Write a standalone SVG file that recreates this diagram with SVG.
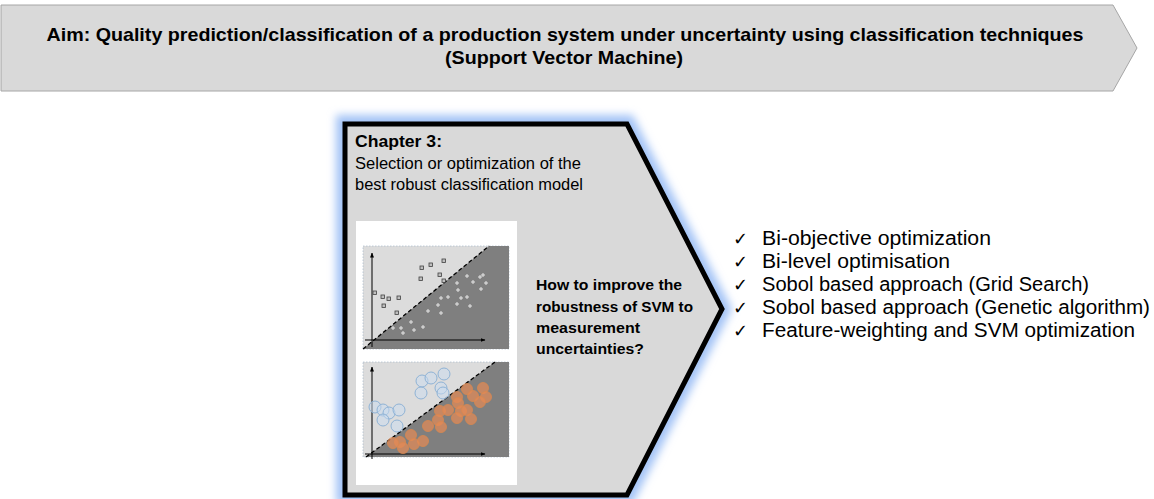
<svg xmlns="http://www.w3.org/2000/svg" width="1154" height="499" viewBox="0 0 1154 499">
<defs>
<style>
.bt{font-family:"Liberation Sans",Arial,sans-serif;font-weight:bold;fill:#000}
.rt{font-family:"Liberation Sans",Arial,sans-serif;fill:#000}
.ck{font-family:"DejaVu Sans",sans-serif;fill:#000;font-size:18px}
.li{font-family:"Liberation Sans",Arial,sans-serif;fill:#000;font-size:19.5px}
.xm{fill:#bfbfbf;stroke:#404040;stroke-width:0.8}
.pm{stroke:#e6e6e6;stroke-width:1}
.bc{fill:#c9dcef;fill-opacity:0.5;stroke:#8fb3d6;stroke-width:1}
.oc{fill:#e58a55;fill-opacity:0.7;stroke:#d9884f;stroke-width:0.8}
</style>
<filter id="glow" x="-20%" y="-20%" width="140%" height="140%"><feGaussianBlur stdDeviation="4"/></filter>
<marker id="ah" viewBox="0 0 10 10" refX="9" refY="5" markerWidth="5" markerHeight="5" orient="auto"><path d="M0,1 L10,5 L0,9 Z" fill="#000"/></marker>
</defs>

<g id="banner">
<path d="M1,5 L1113,5 L1137,48 L1113,91 L1,91 Z" fill="#d9d9d9" stroke="#a6a6a6" stroke-width="1"/>
<text class="bt" x="565" y="41" font-size="19" text-anchor="middle" textLength="1037" lengthAdjust="spacingAndGlyphs">Aim: Quality prediction/classification of a production system under uncertainty using classification techniques</text>
<text class="bt" x="564" y="64" font-size="19" text-anchor="middle" textLength="238" lengthAdjust="spacingAndGlyphs">(Support Vector Machine)</text>
</g>

<g id="chapter3">
<path d="M345,124 L627,124 L722,309 L627,495 L345,495 Z" fill="none" stroke="#a3c3f6" stroke-width="18" filter="url(#glow)"/>
<path d="M345,124 L627,124 L722,309 L627,495 L345,495 Z" fill="#d9d9d9" stroke="#000" stroke-width="5" stroke-linejoin="miter"/>
<text class="bt" x="355" y="147" font-size="17" textLength="87" lengthAdjust="spacingAndGlyphs">Chapter 3:</text>
<text class="rt" x="355" y="169" font-size="16" textLength="226" lengthAdjust="spacingAndGlyphs">Selection or optimization of the</text>
<text class="rt" x="355" y="190" font-size="16" textLength="228" lengthAdjust="spacingAndGlyphs">best robust classification model</text>
<text class="bt" x="536" y="290" font-size="15" textLength="146" lengthAdjust="spacingAndGlyphs">How to improve the</text>
<text class="bt" x="536" y="312" font-size="15" textLength="157" lengthAdjust="spacingAndGlyphs">robustness of SVM to</text>
<text class="bt" x="536" y="333" font-size="15" textLength="104" lengthAdjust="spacingAndGlyphs">measurement</text>
<text class="bt" x="536" y="354" font-size="15" textLength="108" lengthAdjust="spacingAndGlyphs">uncertainties?</text>
</g>

<g id="svm-plots">
<rect x="356" y="221" width="161" height="264" fill="#fff"/>
<rect x="363" y="246" width="146" height="103" fill="#dcdcdc" stroke="#9fb3c8" stroke-width="0.6" stroke-dasharray="1.5,1.5"/>
<polygon points="363,349 489,246 509,246 509,349" fill="#7f7f7f"/>
<line x1="363" y1="349" x2="489" y2="246" stroke="#000" stroke-width="1.3" stroke-dasharray="4,2.5"/>
<line x1="372" y1="347" x2="372" y2="253" stroke="#000" stroke-width="1" marker-end="url(#ah)"/>
<line x1="365" y1="340" x2="485" y2="340" stroke="#000" stroke-width="1" marker-end="url(#ah)"/>
<g>
<rect class="xm" x="373" y="291" width="3.5" height="3.5"/><rect class="xm" x="381" y="295" width="3.5" height="3.5"/><rect class="xm" x="387" y="297" width="3.5" height="3.5"/><rect class="xm" x="397" y="296" width="3.5" height="3.5"/><rect class="xm" x="382" y="304" width="3.5" height="3.5"/><rect class="xm" x="395" y="311" width="3.5" height="3.5"/><rect class="xm" x="420" y="266" width="3.5" height="3.5"/><rect class="xm" x="429" y="263" width="3.5" height="3.5"/><rect class="xm" x="442" y="259" width="3.5" height="3.5"/><rect class="xm" x="419" y="277" width="3.5" height="3.5"/><rect class="xm" x="438" y="273" width="3.5" height="3.5"/><rect class="xm" x="442" y="279" width="3.5" height="3.5"/>
</g>
<path class="pm" d="M455,283h4M457,281v4 M465,276h4M467,274v4 M471,282h4M473,280v4 M478,277h4M480,275v4 M481,275h4M483,273v4 M484,283h4M486,281v4 M479,289h4M481,287v4 M456,290h4M458,288v4 M446,297h4M448,295v4 M439,298h4M441,296v4 M459,298h4M461,296v4 M465,297h4M467,295v4 M455,304h4M457,302v4 M468,306h4M470,304v4 M436,305h4M438,303v4 M439,313h4M441,311v4 M426,311h4M428,309v4 M409,322h4M411,320v4 M421,327h4M423,325v4 M412,330h4M414,328v4 M399,328h4M401,326v4 M401,333h4M403,331v4 M391,328h4M393,326v4"/>
<rect x="363" y="362" width="146" height="95" fill="#dcdcdc" stroke="#9fb3c8" stroke-width="0.6" stroke-dasharray="1.5,1.5"/>
<polygon points="366,457 495,362 509,362 509,457" fill="#7f7f7f"/>
<line x1="366" y1="457" x2="495" y2="362" stroke="#000" stroke-width="1.3" stroke-dasharray="4,2.5"/>
<line x1="372" y1="459" x2="372" y2="367" stroke="#000" stroke-width="1" marker-end="url(#ah)"/>
<line x1="365" y1="454" x2="485" y2="454" stroke="#000" stroke-width="1" marker-end="url(#ah)"/>
<g>
<circle class="bc" cx="422" cy="381" r="6"/><circle class="bc" cx="431" cy="378" r="6"/><circle class="bc" cx="444" cy="374" r="6"/><circle class="bc" cx="421" cy="393" r="6"/><circle class="bc" cx="441" cy="388" r="6"/><circle class="bc" cx="443" cy="393" r="6"/><circle class="bc" cx="375" cy="407" r="6"/><circle class="bc" cx="383" cy="410" r="6"/><circle class="bc" cx="389" cy="413" r="6"/><circle class="bc" cx="399" cy="410" r="6"/><circle class="bc" cx="383" cy="420" r="6"/><circle class="bc" cx="397" cy="426" r="6"/>
</g>
<g>
<circle class="oc" cx="457" cy="397" r="5.5"/><circle class="oc" cx="467" cy="389" r="5.5"/><circle class="oc" cx="473" cy="396" r="5.5"/><circle class="oc" cx="483" cy="388" r="5.5"/><circle class="oc" cx="486" cy="397" r="5.5"/><circle class="oc" cx="480" cy="402" r="5.5"/><circle class="oc" cx="458" cy="403" r="5.5"/><circle class="oc" cx="440" cy="411" r="5.5"/><circle class="oc" cx="448" cy="410" r="5.5"/><circle class="oc" cx="461" cy="411" r="5.5"/><circle class="oc" cx="467" cy="410" r="5.5"/><circle class="oc" cx="457" cy="418" r="5.5"/><circle class="oc" cx="471" cy="419" r="5.5"/><circle class="oc" cx="438" cy="420" r="5.5"/><circle class="oc" cx="441" cy="427" r="5.5"/><circle class="oc" cx="428" cy="426" r="5.5"/><circle class="oc" cx="411" cy="435" r="5.5"/><circle class="oc" cx="423" cy="441" r="5.5"/><circle class="oc" cx="414" cy="444" r="5.5"/><circle class="oc" cx="400" cy="442" r="5.5"/><circle class="oc" cx="403" cy="448" r="5.5"/><circle class="oc" cx="393" cy="443" r="5.5"/>
</g>
</g>

<g id="checklist">
<text class="ck" x="733" y="245">✓</text>
<text class="li" x="762" y="245" textLength="229" lengthAdjust="spacingAndGlyphs">Bi-objective optimization</text>
<text class="ck" x="733" y="268">✓</text>
<text class="li" x="762" y="268" textLength="188" lengthAdjust="spacingAndGlyphs">Bi-level optimisation</text>
<text class="ck" x="733" y="291">✓</text>
<text class="li" x="762" y="291" textLength="327" lengthAdjust="spacingAndGlyphs">Sobol based approach (Grid Search)</text>
<text class="ck" x="733" y="314">✓</text>
<text class="li" x="762" y="314" textLength="388" lengthAdjust="spacingAndGlyphs">Sobol based approach (Genetic algorithm)</text>
<text class="ck" x="733" y="337">✓</text>
<text class="li" x="762" y="337" textLength="373" lengthAdjust="spacingAndGlyphs">Feature-weighting and SVM optimization</text>
</g>

<g id="connectors"></g>
</svg>
